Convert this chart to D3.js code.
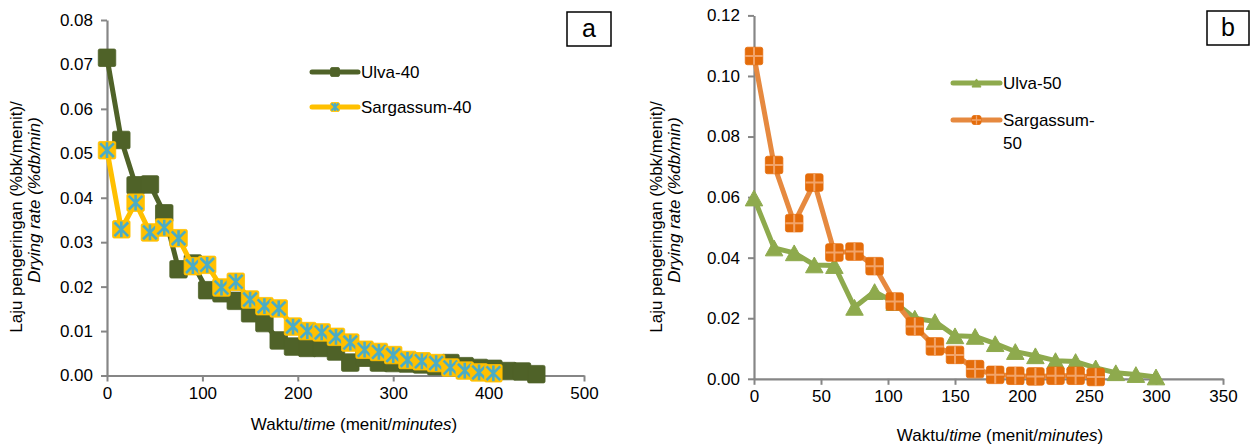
<!DOCTYPE html>
<html><head><meta charset="utf-8">
<script src="https://cdn.jsdelivr.net/npm/d3@7"></script>
<style>
html,body{margin:0;padding:0;background:#fff;}
svg{display:block;font-family:"Liberation Sans",Arial,sans-serif;}
</style></head>
<body>
<svg id="c" width="1255" height="447"></svg>
<script>
// ---- data (panel a) ----
const ulva40Time = [0,15,30,45,60,75,90,105,120,135,150,165,180,195,210,225,240,255,270,285,300,315,330,345,360,375,390,405,420,435,450];
const ulva40Rate = [0.0715,0.0530,0.0428,0.0430,0.0365,0.0239,0.0252,0.0192,0.0185,0.0168,0.0140,0.0118,0.0079,0.0065,0.0062,0.0062,0.0054,0.0029,0.0040,0.0029,0.0028,0.0027,0.0025,0.0021,0.0028,0.0021,0.0017,0.0015,0.0010,0.0009,0.0003];
const sarg40Time = [0,15,30,45,60,75,90,105,120,135,150,165,180,195,210,225,240,255,270,285,300,315,330,345,360,375,390,405];
const sarg40Rate = [0.0507,0.0329,0.0389,0.0322,0.0333,0.0309,0.0246,0.0249,0.0198,0.0211,0.0171,0.0156,0.0151,0.0110,0.0100,0.0097,0.0087,0.0074,0.0058,0.0053,0.0046,0.0035,0.0032,0.0028,0.0018,0.0011,0.0007,0.0005];
const xTicksA = [0,100,200,300,400,500];
const yTicksA = [0,0.01,0.02,0.03,0.04,0.05,0.06,0.07,0.08];
// ---- data (panel b) ----
const ulva50Time = [0,15,30,45,60,75,90,105,120,135,150,165,180,195,210,225,240,255,270,285,300];
const ulva50Rate = [0.0597,0.0432,0.0416,0.0376,0.0374,0.0236,0.0288,0.0252,0.0200,0.0189,0.0142,0.0140,0.0116,0.0090,0.0076,0.0060,0.0057,0.0036,0.0020,0.0014,0.0006];
const sarg50Time = [0,15,30,45,60,75,90,105,120,135,150,165,180,195,210,225,240,255];
const sarg50Rate = [0.1066,0.0706,0.0514,0.0648,0.0417,0.0420,0.0372,0.0255,0.0173,0.0107,0.0079,0.0032,0.0013,0.0010,0.0008,0.0010,0.0010,0.0006];
const xTicksB = [0,50,100,150,200,250,300,350];
const yTicksB = [0,0.02,0.04,0.06,0.08,0.10,0.12];

const svg = d3.select("#c");
const FS = 17;
const axisCol = "#868686";

function panel(opt){
  const g = svg.append("g");
  const x = d3.scaleLinear().domain(opt.xDom).range(opt.xRange);
  const y = d3.scaleLinear().domain(opt.yDom).range(opt.yRange);
  // axes
  const ax = g.append("g").attr("transform",`translate(0,${opt.yRange[0]})`)
    .call(d3.axisBottom(x).tickValues(opt.xTicks).tickSize(6).tickSizeOuter(0).tickPadding(5).tickFormat(d3.format("d")));
  const ay = g.append("g").attr("transform",`translate(${opt.xRange[0]},0)`)
    .call(d3.axisLeft(y).tickValues(opt.yTicks).tickSize(6).tickSizeOuter(0).tickPadding(8).tickFormat(d3.format(".2f")));
  [ax,ay].forEach(a=>{
    a.select(".domain").attr("stroke",axisCol).attr("stroke-width",2.2);
    a.selectAll(".tick line").attr("stroke",axisCol).attr("stroke-width",2);
    a.selectAll(".tick text").attr("fill","#000").style("font-size",FS+"px").style("font-family","'Liberation Sans',Arial,sans-serif");
  });
  // titles
  const xt = g.append("text").attr("x",opt.xTitle[0]).attr("y",opt.xTitle[1]).attr("text-anchor","middle").style("font-size",FS+"px");
  xt.append("tspan").text("Waktu/");
  xt.append("tspan").attr("font-style","italic").text("time");
  xt.append("tspan").text(" (menit/");
  xt.append("tspan").attr("font-style","italic").text("minutes");
  xt.append("tspan").text(")");
  g.append("text").attr("transform",`translate(${opt.yTitle1[0]},${opt.yTitle1[1]}) rotate(-90)`)
    .attr("text-anchor","middle").style("font-size",FS+"px").text("Laju pengeringan (%bk/menit)/");
  g.append("text").attr("transform",`translate(${opt.yTitle2[0]},${opt.yTitle2[1]}) rotate(-90)`)
    .attr("text-anchor","middle").style("font-size",FS+"px").attr("font-style","italic").text("Drying rate (%db/min)");
  // panel label box
  g.append("rect").attr("x",opt.box[0]).attr("y",opt.box[1]).attr("width",opt.box[2]).attr("height",opt.box[3])
    .attr("fill","#fff").attr("stroke","#000").attr("stroke-width",1.5);
  g.append("text").attr("x",opt.box[0]+opt.box[2]/2).attr("y",opt.box[1]+opt.box[3]/2+8).attr("text-anchor","middle")
    .style("font-size","25px").text(opt.label);
  return {g,x,y};
}

function marker(sel, type, cx, cy, s, st){
  const h = s/2;
  if(type==="square"){
    sel.append("rect").attr("x",cx-h).attr("y",cy-h).attr("width",s).attr("height",s).attr("rx",1.5)
      .attr("fill",st.fill).attr("stroke",st.edge||st.fill).attr("stroke-width",0.8);
  } else if(type==="asterisk"){
    sel.append("rect").attr("x",cx-h).attr("y",cy-h).attr("width",s).attr("height",s).attr("rx",1.5)
      .attr("fill",st.fill).attr("stroke",st.fill).attr("stroke-width",0.8);
    const a = h*0.78;
    sel.append("path").attr("d",`M${cx-a},${cy-a}L${cx+a},${cy+a}M${cx-a},${cy+a}L${cx+a},${cy-a}M${cx},${cy-h*0.9}L${cx},${cy+h*0.9}`)
      .attr("stroke",st.cross).attr("stroke-width",s>12?2.6:1.8).attr("fill","none");
  } else if(type==="plus"){
    sel.append("rect").attr("x",cx-h).attr("y",cy-h).attr("width",s).attr("height",s).attr("rx",2)
      .attr("fill",st.fill).attr("stroke",st.fill).attr("stroke-width",0.8);
    sel.append("path").attr("d",`M${cx},${cy-h}L${cx},${cy+h}M${cx-h},${cy}L${cx+h},${cy}`)
      .attr("stroke",st.cross).attr("stroke-width",s>12?2:1.3).attr("fill","none");
  } else if(type==="triangle"){
    const th = s*0.9;
    sel.append("path").attr("d",`M${cx},${cy-th/2}L${cx+h},${cy+th/2}L${cx-h},${cy+th/2}Z`)
      .attr("fill",st.fill).attr("stroke",st.fill).attr("stroke-width",1).attr("stroke-linejoin","round");
  }
}

function series(p, times, rates, st){
  const pts = times.map((t,i)=>[p.x(t), p.y(rates[i])]);
  const g = p.g.append("g");
  g.append("path").attr("d",d3.line()(pts)).attr("fill","none").attr("stroke",st.line)
    .attr("stroke-width",5).attr("stroke-linejoin","round").attr("stroke-linecap","round");
  pts.forEach(([cx,cy])=>marker(g, st.type, cx, cy, 17.5, st));
}

function legend(p, x0, x1, yy, lines, st){
  const g = p.g.append("g");
  g.append("line").attr("x1",x0).attr("x2",x1).attr("y1",yy).attr("y2",yy).attr("stroke",st.line)
    .attr("stroke-width",5).attr("stroke-linecap","round");
  marker(g, st.type, (x0+x1)/2, yy, 9, st);
  lines.forEach((t,i)=>g.append("text").attr("x",x1+3).attr("y",yy+6+i*23).style("font-size",FS+"px").text(t));
}

// ---------- panel a ----------
const A = panel({xDom:[0,500],xRange:[107,584],yDom:[0,0.08],yRange:[375.5,20],
  xTicks:xTicksA,yTicks:yTicksA,xTitle:[354,430],yTitle1:[22,217],yTitle2:[40,200],box:[567,12,44,34],label:"a"});
const stU40 = {line:"#4F6228",fill:"#4F6228",type:"square"};
const stS40 = {line:"#FFC000",fill:"#FFC000",cross:"#4BACC6",type:"asterisk"};
series(A, ulva40Time, ulva40Rate, stU40);
series(A, sarg40Time, sarg40Rate, stS40);
legend(A, 312, 358, 72, ["Ulva-40"], stU40);
legend(A, 312, 358, 107, ["Sargassum-40"], stS40);

// ---------- panel b ----------
const B = panel({xDom:[0,350],xRange:[754,1223],yDom:[0,0.12],yRange:[378.8,15.4],
  xTicks:xTicksB,yTicks:yTicksB,xTitle:[1000,441],yTitle1:[662,217],yTitle2:[680,200],box:[1207,11,42,34],label:"b"});
const stU50 = {line:"#8EAA4D",fill:"#8EAA4D",type:"triangle"};
const stS50 = {line:"#E6893F",fill:"#E46C0A",cross:"#F2A469",type:"plus"};
series(B, ulva50Time, ulva50Rate, stU50);
series(B, sarg50Time, sarg50Rate, stS50);
legend(B, 953, 1000, 83, ["Ulva-50"], stU50);
legend(B, 953, 1000, 120, ["Sargassum-","50"], stS50);
</script>
</body></html>
